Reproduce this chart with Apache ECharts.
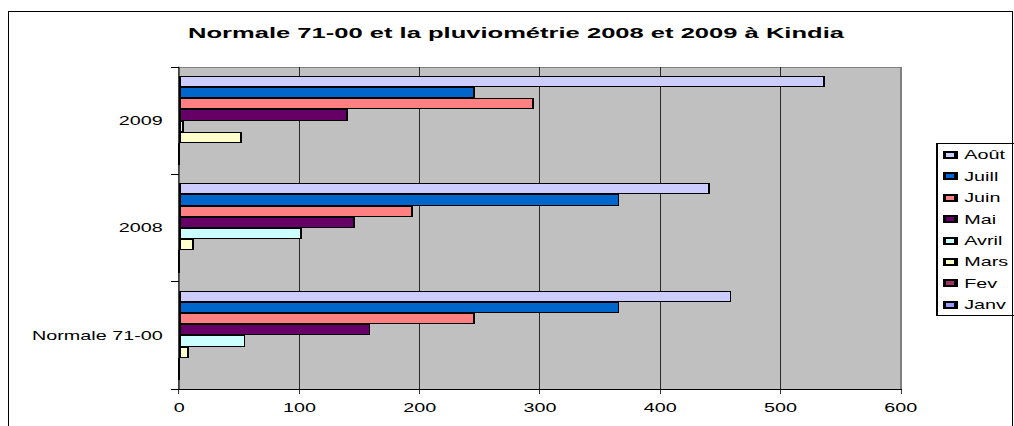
<!DOCTYPE html>
<html>
<head>
<meta charset="utf-8">
<script src="https://cdn.jsdelivr.net/npm/echarts@6.0.0/dist/echarts.min.js"></script>
<style>
  html, body { margin: 0; padding: 0; background: #fff; }
  #wrap { position: relative; width: 1014px; height: 426px; overflow: hidden; background: #fff; }
  #chart { position: absolute; left: 0; top: 0; width: 615px; height: 426px; transform-origin: 0 0; }
  #chart svg path { shape-rendering: crispEdges; }
  #frame { position: absolute; left: 8px; top: 11px; width: 1005px; height: 500px; box-sizing: border-box;
           border: 1px solid #000; pointer-events: none; z-index: 5; }
</style>
</head>
<body>
<div id="wrap">
  <div id="chart"></div>
  <div id="frame"></div>
</div>
<script>
// ---- data ----
const categories = ['Normale 71-00', '2008', '2009'];
const months = ['Août', 'Juill', 'Juin', 'Mai', 'Avril', 'Mars', 'Fev', 'Janv'];
const aout  = [459, 441, 537];
const juill = [366, 366, 246];
const juin  = [246, 194, 295];
const mai   = [159, 146, 140];
const avril = [55, 102, 4];
const mars  = [8, 12, 52];
const fev   = [0, 0, 0];
const janv  = [0, 0, 0];
const xTicks = [0, 100, 200, 300, 400, 500, 600];

const valuesByMonth = [aout, juill, juin, mai, avril, mars, fev, janv];
const colors = ['#CCCCFF', '#0066CC', '#FF8080', '#660066', '#CCFFFF', '#FFFFCC', '#993366', '#9999FF'];

// chart is laid out in a narrower frame and stretched horizontally like the source picture
const W = 615, H = 426, S = 1014 / W;
const chartDom = document.getElementById('chart');
chartDom.style.transform = 'scaleX(' + S + ')';

const chart = echarts.init(chartDom, null, { renderer: 'svg', width: W, height: H });
const FONT = "'Liberation Sans', Arial, sans-serif";
const VW = 1 / S; // width of vertical 1px lines in the unstretched frame

const option = {
  animation: false,
  backgroundColor: '#fff',
  textStyle: { fontFamily: FONT, color: '#000' },
  title: {
    text: 'Normale 71-00 et la pluviométrie 2008 et 2009 à Kindia',
    left: 188 / S,
    top: 24,
    padding: 0,
    textStyle: { fontFamily: FONT, fontSize: 15.5, fontWeight: 'bold', color: '#000' }
  },
  legend: {
    data: months,
    orient: 'vertical',
    left: 937 / S,
    top: 143,
    padding: [5, 40, 4, 3.5],
    itemGap: 7.4,
    itemWidth: 7,
    itemHeight: 6,
    icon: 'rect',
    borderColor: '#000',
    borderWidth: 1,
    backgroundColor: '#fff',
    textStyle: { fontFamily: FONT, fontSize: 12, lineHeight: 14, color: '#000' }
  },
  grid: {
    left: 179.3 / S,
    right: W - 900.7 / S,
    top: 67,
    bottom: H - 389,
    show: true,
    backgroundColor: '#C0C0C0',
    borderColor: '#808080',
    borderWidth: 1
  },
  xAxis: {
    type: 'value',
    min: xTicks[0],
    max: xTicks[xTicks.length - 1],
    interval: xTicks[1] - xTicks[0],
    axisLine: { show: true, lineStyle: { color: '#000', width: 1 } },
    axisTick: { show: true, length: 5, lineStyle: { color: '#000', width: VW } },
    axisLabel: { color: '#000', fontSize: 12, fontFamily: FONT, margin: 13 },
    splitLine: { show: true, showMinLine: false, showMaxLine: false, lineStyle: { color: '#000', width: VW } }
  },
  yAxis: {
    type: 'category',
    data: categories,
    axisLine: { show: true, lineStyle: { color: '#000', width: VW } },
    axisTick: { show: true, length: 5, lineStyle: { color: '#000', width: 1 } },
    axisLabel: { color: '#000', fontSize: 12, fontFamily: FONT, margin: 10 },
    splitLine: { show: false }
  },
  series: months.map(function (m, i) {
    return {
      name: m,
      type: 'bar',
      data: valuesByMonth[i],
      barGap: 0,
      barCategoryGap: '16.5%',
      itemStyle: { color: colors[i], borderColor: '#000', borderWidth: 1 },
      emphasis: { disabled: true }
    };
  })
};
chart.setOption(option);
</script>
</body>
</html>
